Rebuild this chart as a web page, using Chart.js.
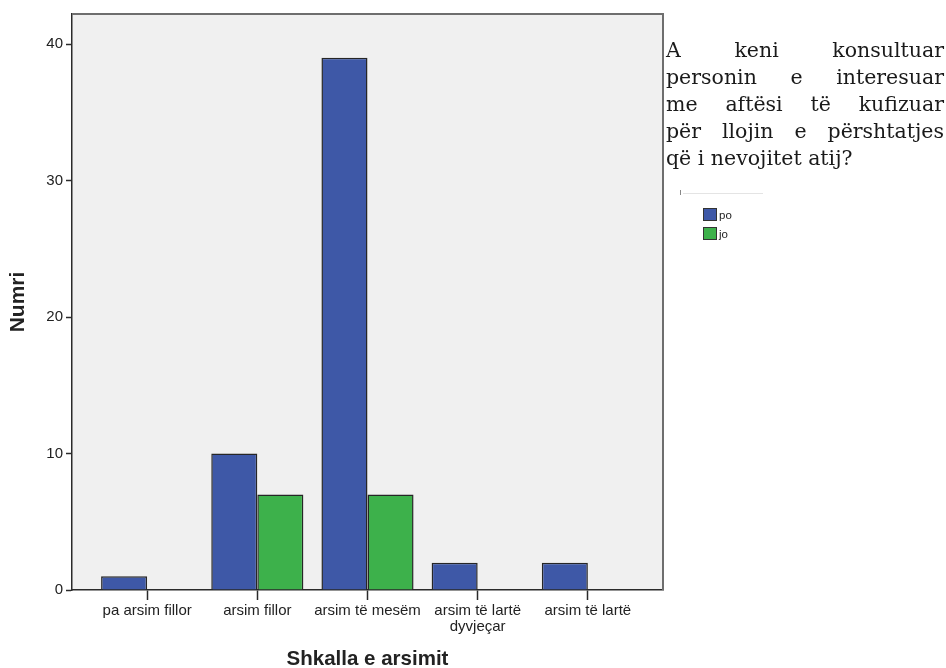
<!DOCTYPE html>
<html>
<head>
<meta charset="utf-8">
<script src="https://cdn.jsdelivr.net/npm/chart.js@4.4.1/dist/chart.umd.min.js"></script>
<style>
  html, body { margin: 0; padding: 0; background: #fff; }
  #wrap { position: relative; width: 946px; height: 668px; }
  #chart { position: absolute; left: 0; top: 0; }
  #note {
    position: absolute; left: 666px; top: 37px; width: 278px;
    font-family: "DejaVu Serif", serif; font-size: 20.5px; line-height: 27px;
    color: #1a1a1a;
  }
  #note div { text-align: justify; text-align-last: justify; white-space: nowrap; }
  #note div.last { text-align-last: left; }
  #rule { position: absolute; left: 683px; top: 193px; width: 80px; height: 1px; background: #e4e4e4; }
  #rule-tick { position: absolute; left: 680px; top: 190px; width: 1px; height: 5px; background: #888; }
  #legend { position: absolute; left: 703px; top: 205px; font-family: "Liberation Sans", Arial, sans-serif; font-size: 11.5px; color: #222; }
  .item { height: 19px; display: flex; align-items: center; }
  .box { width: 12px; height: 11px; border: 1px solid #333; margin-right: 2px; }
</style>
</head>
<body>
<div id="wrap">
  <canvas id="chart" width="946" height="668"></canvas>
  <div id="note">
    <div>A keni konsultuar</div>
    <div>personin e interesuar</div>
    <div>me aftësi të kufizuar</div>
    <div>për llojin e përshtatjes</div>
    <div class="last">që i nevojitet atij?</div>
  </div>
  <div id="rule-tick"></div>
  <div id="rule"></div>
  <div id="legend"></div>
</div>
<script>
// Education levels on the x axis
const categories = ['pa arsim fillor', 'arsim fillor', 'arsim të mesëm', ['arsim të lartë', 'dyvjeçar'], 'arsim të lartë'];
// Counts per answer
const seriesNames = ['po', 'jo'];
const poValues = [1, 10, 39, 2, 2];
const joValues = [null, 7, 7, null, null];
const yTicks = [0, 10, 20, 30, 40];

const colors = ['#3e58a7', '#3db14b'];

function toPoints(values) {
  return values.map((v, i) => ({ x: i, y: v }));
}

// plot background and frame, like the SPSS output
const framePlugin = {
  id: 'frame',
  beforeDraw(chart) {
    const a = chart.chartArea, c = chart.ctx;
    c.save();
    c.fillStyle = '#f0f0f0';
    c.fillRect(a.left, a.top, a.right - a.left, a.bottom - a.top);
    c.restore();
  },
  afterDraw(chart) {
    const a = chart.chartArea, c = chart.ctx;
    c.save();
    c.strokeStyle = '#6e6e6e';
    c.lineWidth = 2;
    c.beginPath();
    c.moveTo(a.left, a.top);
    c.lineTo(a.right, a.top);
    c.lineTo(a.right, a.bottom);
    c.stroke();
    c.restore();
  }
};

const font = { family: '"Liberation Sans", Arial, sans-serif', size: 15 };

const chart = new Chart(document.getElementById('chart').getContext('2d'), {
  type: 'bar',
  data: {
    datasets: [
      { label: seriesNames[0], data: toPoints(poValues), backgroundColor: colors[0], borderColor: '#262626', borderWidth: 1.5 },
      { label: seriesNames[1], data: toPoints(joValues), backgroundColor: colors[1], borderColor: '#262626', borderWidth: 1.5 }
    ]
  },
  options: {
    responsive: false,
    animation: false,
    layout: { padding: { top: 14, right: 283, left: 0, bottom: 0 } },
    datasets: { bar: { categoryPercentage: 0.836, barPercentage: 1.0 } },
    plugins: { legend: { display: false }, tooltip: { enabled: false } },
    scales: {
      x: {
        type: 'linear',
        offset: false,
        min: -0.682,
        max: 4.682,
        afterBuildTicks: s => { s.ticks = categories.map((_, i) => ({ value: i })); },
        afterFit: s => { s.height = 78; },
        grid: { offset: false, drawOnChartArea: false, tickLength: 10, tickColor: '#2a2a2a', tickWidth: 1.5 },
        border: { color: '#2a2a2a', width: 1.5 },
        ticks: {
          color: '#222', font: { ...font, lineHeight: 1.05 }, padding: 3, maxRotation: 0, autoSkip: false,
          callback: v => categories[v]
        },
        title: { display: true, text: 'Shkalla e arsimit', color: '#222', font: { ...font, size: 20.5, weight: 'bold' }, padding: { top: 0, bottom: -4 } }
      },
      y: {
        min: 0,
        max: 42.2,
        afterBuildTicks: s => { s.ticks = yTicks.map(v => ({ value: v })); },
        afterFit: s => { s.width = 72; },
        grid: { drawOnChartArea: false, tickLength: 6, tickColor: '#2a2a2a', tickWidth: 1.5 },
        border: { color: '#2a2a2a', width: 1.5 },
        ticks: { color: '#222', font: font, padding: 3 },
        title: { display: true, text: 'Numri', color: '#222', font: { ...font, size: 21, weight: 'bold' }, padding: { top: 6, bottom: 0 } }
      }
    }
  },
  plugins: [framePlugin]
});

// legend in the side panel, built from the datasets
const legend = document.getElementById('legend');
chart.data.datasets.forEach(ds => {
  const row = document.createElement('div');
  row.className = 'item';
  row.innerHTML = `<span class="box" style="background:${ds.backgroundColor}"></span>${ds.label}`;
  legend.appendChild(row);
});
</script>
</body>
</html>
